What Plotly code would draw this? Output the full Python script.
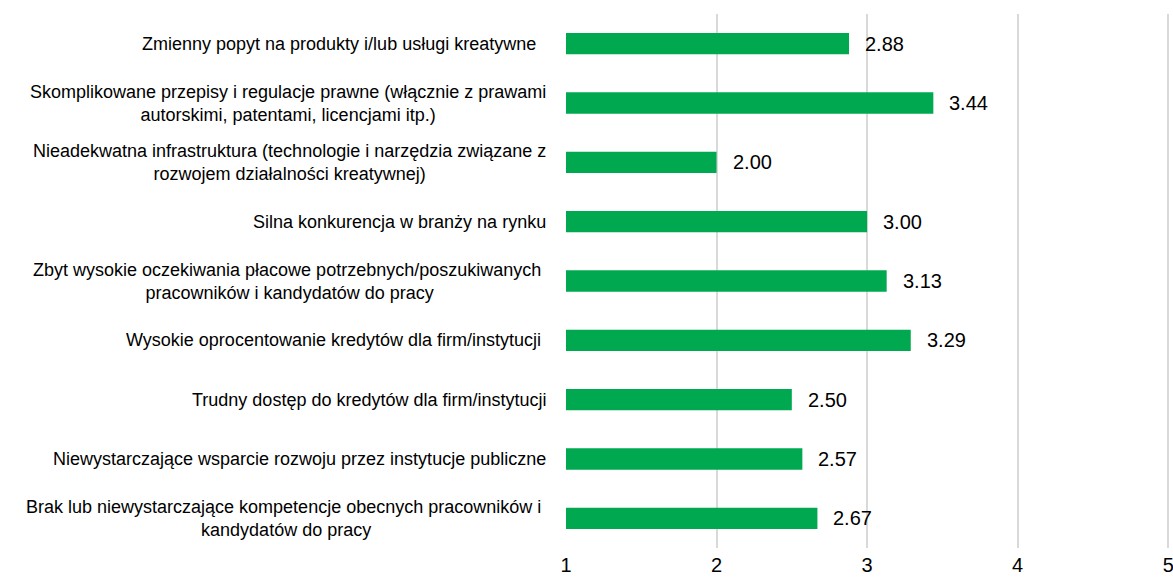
import plotly.graph_objects as go

NB = "\u00a0"
categories = [
    "Zmienny popyt na produkty i/lub usługi kreatywne" + NB * 2,
    "Skomplikowane przepisy i regulacje prawne (włącznie z prawami<br>autorskimi, patentami, licencjami itp.)",
    "Nieadekwatna infrastruktura (technologie i narzędzia związane z<br>rozwojem działalności kreatywnej)",
    "Silna konkurencja w branży na rynku",
    "Zbyt wysokie oczekiwania płacowe potrzebnych/poszukiwanych" + NB + "<br>pracowników i kandydatów do pracy",
    "Wysokie oprocentowanie kredytów dla firm/instytucji" + NB,
    "Trudny dostęp do kredytów dla firm/instytucji",
    "Niewystarczające wsparcie rozwoju przez instytucje publiczne",
    "Brak lub niewystarczające kompetencje obecnych pracowników i" + NB + "<br>kandydatów do pracy",
]
values = [2.88, 3.44, 2.00, 3.00, 3.13, 3.29, 2.50, 2.57, 2.67]
tick_vals = [1, 2, 3, 4, 5]

GREEN = "#00A94F"
FONT = "Liberation Sans, Arial, sans-serif"

fig = go.Figure()
fig.add_trace(go.Bar(
    x=values, y=categories, orientation="h",
    marker=dict(color=GREEN, line=dict(width=0)),
    width=0.36, hoverinfo="skip",
))

annotations = []
for c, v in zip(categories, values):
    annotations.append(dict(
        x=0, xref="paper", y=c, yref="y", text=c, showarrow=False,
        xanchor="right", yanchor="middle", align="center", xshift=-18,
        font=dict(family=FONT, size=18, color="#000000"),
    ))
    annotations.append(dict(
        x=v, xref="x", y=c, yref="y", text=f"{v:.2f}", showarrow=False,
        xanchor="left", yanchor="middle", xshift=14,
        font=dict(family=FONT, size=20, color="#000000"),
    ))

fig.update_layout(
    width=1173, height=578,
    margin=dict(l=566, r=3, t=14, b=30, autoexpand=False),
    paper_bgcolor="white", plot_bgcolor="white",
    showlegend=False,
    annotations=annotations,
    xaxis=dict(
        range=[1, 5.012], tickvals=tick_vals, ticktext=[str(t) for t in tick_vals],
        showgrid=True, gridcolor="#D9D9D9", gridwidth=2,
        zeroline=False, showline=False, automargin=False,
        ticklabeloverflow="allow",
        tickfont=dict(family=FONT, size=20, color="#000000"),
        ticklabelstandoff=3,
    ),
    yaxis=dict(
        categoryorder="array", categoryarray=categories,
        autorange="reversed", showticklabels=False, automargin=False,
        showgrid=False, zeroline=False, showline=False,
    ),
)

fig.write_html(
    "out.html",
    config={"displayModeBar": False},
    post_script="document.body.style.margin='0';document.body.style.overflow='hidden';",
)
